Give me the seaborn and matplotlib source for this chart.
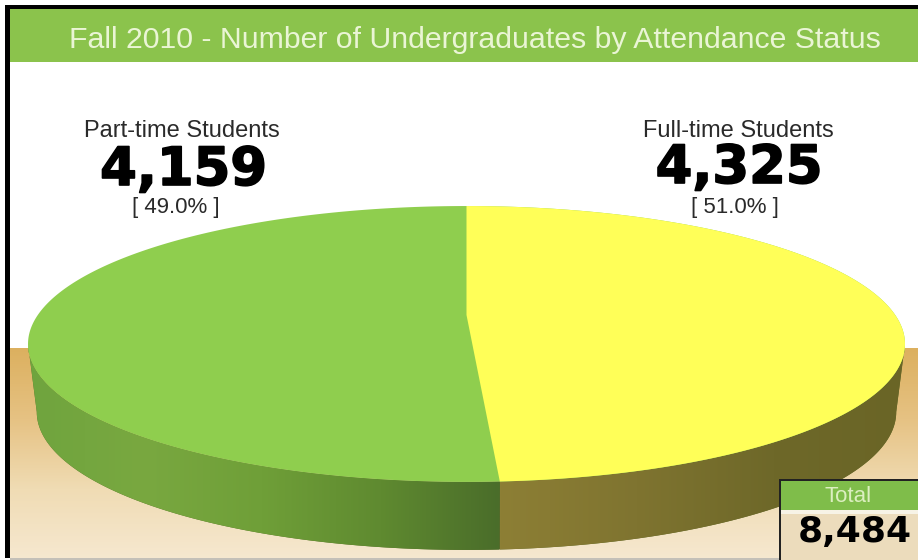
import numpy as np
import pandas as pd
import matplotlib
matplotlib.use('Agg')
import matplotlib.pyplot as plt
import matplotlib.patheffects as pe
import seaborn as sns
from matplotlib.patches import Polygon, Rectangle

title = 'Fall 2010 - Number of Undergraduates by Attendance Status'
labels = ['Part-time Students', 'Full-time Students']
counts = [4159, 4325]
shares = ['[ 49.0% ]', '[ 51.0% ]']
total_label = 'Total'
total_value = 8484

# the source paints the bigger slice green although the text over it says 4,159
slice_values = [4325, 4159]

sns.set_theme(style='white')
plt.rcParams['font.family'] = ['Liberation Sans', 'DejaVu Sans']

W, H = 918, 560
fig = plt.figure(figsize=(W / 100, H / 100), dpi=100)
ax = fig.add_axes([0, 0, 1, 1])
ax.set_xlim(0, W)
ax.set_ylim(H, 0)
ax.axis('off')


def gradient(cmap, extent, horizontal=False, clip=None, z=1):
    ramp = np.linspace(0, 1, 256)
    ramp = ramp.reshape(1, -1) if horizontal else ramp.reshape(-1, 1)
    im = ax.imshow(ramp, cmap=cmap, extent=extent, aspect='auto', zorder=z, interpolation='bilinear')
    if clip is not None:
        im.set_clip_path(clip)
    return im


# disc in perspective: the centre of the pie sits above the centre of the ellipse
CX, TILT, DEPTH = 466.5, 0.21, 68


def rim(theta):
    u, v = np.sin(theta), np.cos(theta)
    w = 1 + TILT * v
    return CX + 428.7 * u / w, (315 - 65.7 * v) / w


def lower(theta):
    x, y = rim(theta)
    return CX + (x - CX) * 0.98, y + DEPTH


# ground behind the pie
gradient(sns.blend_palette(['#dcb05f', '#e6c283', '#f0dcb4', '#f6e8d0'], as_cmap=True), (10, W, H, 348))

# slices run anticlockwise from the top
frac = np.cumsum([0] + slice_values) / sum(slice_values)
green_end = 2 * np.pi * frac[1]
t_yellow = -np.linspace(green_end, 2 * np.pi, 300)

# side walls, only the visible front part of the rim
left_edge = -np.pi / 2 - np.arcsin(TILT)
right_edge = -3 * np.pi / 2 + np.arcsin(TILT)
t_wall_g = np.linspace(left_edge, -green_end, 200)
t_wall_y = np.linspace(-green_end, right_edge, 200)


def wall(t):
    xt, yt = rim(t)
    xb, yb = lower(t)
    return np.c_[np.r_[xt, xb[::-1]], np.r_[yt, yb[::-1]]]


split_x = rim(np.array([-green_end]))[0][0]
ax.add_patch(Polygon(wall(np.linspace(left_edge, right_edge, 400)), closed=True, fc='#5a6a2a', ec='none', zorder=1.5))
for t, cols, ext in [
    (t_wall_g, ['#6fa43e', '#79a840', '#6f9f38', '#5f8a30', '#4a6d2a'], (25, split_x, H, 300)),
    (t_wall_y, ['#8d7f35', '#7f7430', '#6e6829', '#6a6526'], (split_x, 910, H, 300)),
]:
    poly = Polygon(wall(t), closed=True, transform=ax.transData, fc='none', ec='none')
    ax.add_patch(poly)
    gradient(sns.blend_palette(cols, as_cmap=True), ext, horizontal=True, clip=poly, z=2)

# disc top, green underneath so no seam shows between the slices
xy, yy = rim(t_yellow)
cy0 = 315
ax.fill(*rim(np.linspace(0, 2 * np.pi, 600)), color='#8fce4e', lw=0, zorder=3)
ax.fill(np.r_[CX, xy], np.r_[cy0, yy], color='#ffff58', lw=0, zorder=3)

# frame and header band
ax.add_patch(Rectangle((5, 5), W - 5, 4, color='black', lw=0, zorder=5))
ax.add_patch(Rectangle((5, 5), 5, H - 7, color='black', lw=0, zorder=5))
ax.add_patch(Rectangle((10, 558), W - 10, 2, color='#c4c0b8', lw=0, zorder=5))
ax.add_patch(Rectangle((10, 9), W - 10, 53, color='#8bc34c', lw=0, zorder=4))
ax.text(475, 40, title, color='#eaf5d5', fontsize=21.8, ha='center', va='center', zorder=6)

# labels above the pie
big = dict(family='DejaVu Sans', weight='bold', color='black', ha='center', va='center', zorder=6,
           path_effects=[pe.withStroke(linewidth=1.2, foreground='black')])
for lx, bx, sx, by, lab, n, s in zip([182, 738], [183.5, 739], [176, 735], [170, 168], labels, counts, shares):
    ax.text(lx, 131, lab, fontsize=17, color='#2a2a2a', ha='center', va='center', zorder=6)
    ax.text(bx, by, f'{n:,}', fontsize=38, **big)
    ax.text(sx, 208, s, fontsize=16, color='#2a2a2a', ha='center', va='center', zorder=6)

# total box
ax.add_patch(Rectangle((779, 479), W - 779, 81, fc='#ecdcbc', ec='none', zorder=6))
ax.add_patch(Rectangle((779, 479), W - 779, 2, color='#222222', lw=0, zorder=7))
ax.add_patch(Rectangle((779, 479), 2, 81, color='#222222', lw=0, zorder=7))
ax.add_patch(Rectangle((781, 481), W - 781, 29, color='#7fbd4a', lw=0, zorder=7))
ax.add_patch(Rectangle((781, 510), W - 781, 4, color='#f7f3e6', lw=0, zorder=7))
ax.text(848, 496, total_label, fontsize=16, color='#dcefc0', ha='center', va='center', zorder=8)
ax.text(854.5, 532, f'{total_value:,}', fontsize=26, family='DejaVu Sans', weight='bold',
        color='black', ha='center', va='center', zorder=8)

fig.savefig('out.png', dpi=100, facecolor='white')
